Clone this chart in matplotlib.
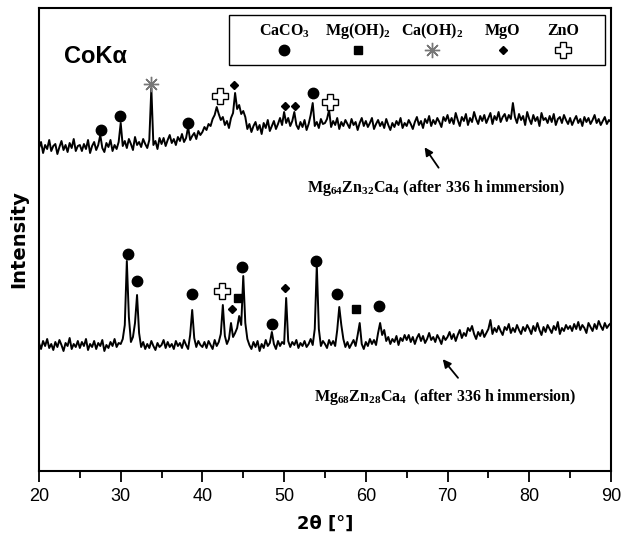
import numpy as np
import matplotlib
matplotlib.use('Agg')
import matplotlib.pyplot as plt
from matplotlib.patches import Rectangle

# subscripts in bold Times-like font
plt.rcParams['mathtext.fontset'] = 'custom'
plt.rcParams['mathtext.rm'] = 'Liberation Serif:bold'
plt.rcParams['mathtext.it'] = 'Liberation Serif:bold'
plt.rcParams['mathtext.bf'] = 'Liberation Serif:bold'

# 2theta grid, 0.25 deg steps
two_theta = np.arange(0, 281) * 0.25 + 20.0

# Mg64Zn32Ca4 (upper trace), one row per 5 deg
upper = [
    327, 333, 322, 330, 326, 335, 324, 329, 331, 321, 328, 334, 325, 330, 323, 332, 327, 336, 324, 329,
    330, 324, 331, 326, 335, 322, 329, 333, 325, 330, 340, 327, 323, 332, 328, 335, 324, 330, 326, 333,
    352, 329, 334, 327, 336, 331, 325, 338, 330, 333, 328, 336, 331, 327, 335, 387, 330, 334, 326, 337,
    331, 337, 329, 335, 340, 332, 336, 330, 338, 334, 341, 333, 337, 348, 335, 339, 342, 336, 344, 340,
    343, 348, 345, 351, 349, 356, 360, 368, 361, 355, 358, 350, 354, 347, 357, 362, 382, 366, 370, 361,
    364, 358, 346, 351, 343, 349, 353, 345, 350, 341, 352, 347, 355, 344, 349, 354, 346, 351, 357, 350,
    363, 352, 357, 349, 354, 363, 350, 346, 353, 348, 355, 345, 351, 360, 372, 349, 353, 347, 356, 351,
    352, 356, 365, 348, 354, 350, 357, 346, 353, 349, 355, 351, 347, 356, 350, 353, 345, 352, 357, 349,
    354, 348, 352, 357, 346, 351, 355, 349, 353, 347, 356, 350, 345, 352, 348, 354, 350, 357, 347, 352,
    349, 355, 351, 346, 353, 358, 350, 354, 347, 356, 352, 359, 349, 355, 351, 357, 353, 348, 358, 354,
    360, 352, 357, 351, 362, 355, 349, 358, 354, 361, 350, 357, 353, 363, 356, 351, 359, 354, 360, 352,
    357, 362, 351, 359, 355, 363, 353, 358, 361, 354, 360, 356, 372, 358, 352, 361, 355, 359, 350, 363,
    356, 351, 360, 354, 358, 349, 362, 355, 357, 352, 359, 353, 361, 350, 356, 358, 352, 360, 355, 351,
    357, 350, 355, 359, 352, 356, 349, 358, 353, 357, 351, 355, 360, 352, 356, 350, 354, 358, 351, 355,
    353,
]

# Mg68Zn28Ca4 (lower trace)
lower = [
    132, 126, 134, 129, 136, 127, 131, 125, 133, 128, 135, 130, 124, 132, 129, 137, 126, 131, 128, 134,
    127, 133, 129, 136, 125, 131, 128, 134, 126, 132, 129, 135, 124, 130, 127, 133, 129, 136, 128, 132,
    131, 136, 150, 214, 158, 133, 138, 152, 180, 142, 128, 133, 126, 131, 127, 134, 129, 125, 132, 128,
    130, 135, 127, 133, 128, 131, 126, 134, 129, 132, 127, 135, 130, 126, 140, 165, 137, 128, 134, 130,
    128, 133, 127, 134, 130, 126, 135, 129, 133, 141, 170, 139, 131, 136, 152, 138, 142, 147, 159, 150,
    199, 152, 136, 130, 126, 133, 128, 134, 124, 131, 127, 135, 129, 132, 143, 131, 126, 134, 129, 133,
    131, 177, 134, 128, 133, 130, 135, 127, 132, 129, 134, 128, 131, 136, 130, 146, 210, 146, 129, 134,
    131, 127, 135, 130, 134, 129, 145, 168, 150, 136, 128, 133, 127, 131, 135, 129, 140, 152, 131, 126,
    133, 129, 136, 131, 135, 130, 142, 152, 140, 145, 134, 138, 131, 136, 133, 139, 130, 137, 134, 140,
    135, 140, 133, 138, 131, 137, 141, 134, 139, 132, 136, 142, 135, 138, 133, 140, 136, 131, 139, 135,
    138, 143, 136, 141, 134, 140, 145, 137, 142, 139, 147, 144, 149, 141, 136, 143, 139, 145, 138, 142,
    146, 155, 141, 147, 143, 149, 144, 140, 148, 145, 151, 142, 147, 143, 150, 145, 141, 148, 144, 150,
    146, 141, 149, 144, 152, 145, 140, 148, 143, 150, 146, 142, 149, 145, 153, 141, 147, 144, 150, 146,
    149, 144, 151, 146, 153, 145, 150, 147, 142, 152, 148, 144, 151, 146, 154, 149, 145, 152, 147, 150,
    152,
]

# phase markers (2theta, height)
caco3_x = [27.6, 29.9, 38.2, 53.5, 30.9, 32.0, 38.7, 44.85, 48.5, 53.9, 56.5, 61.6]
caco3_y = [345, 359, 352, 382, 221, 194, 181, 208, 151, 214, 181, 169]
mgoh2_x = [44.35, 58.8]
mgoh2_y = [177, 166]
caoh2_x = [33.7]
caoh2_y = [391]
mgo_x = [43.9, 50.1, 51.3, 43.6, 50.1]
mgo_y = [390, 369, 369, 166, 187]
zno_x = [42.2, 55.6, 42.4]
zno_y = [379, 373, 184]

phases = ['CaCO$_3$', 'Mg(OH)$_2$', 'Ca(OH)$_2$', 'MgO', 'ZnO']

fig = plt.figure(figsize=(6.21, 5.41), dpi=100)
ax = fig.add_axes([0.0628, 0.1294, 0.921, 0.8558])

ax.plot(two_theta, upper, color='black', lw=1.4)
ax.plot(two_theta, lower, color='black', lw=1.4)

circle = dict(marker='o', ms=7.5, color='black', ls='none')
square = dict(marker='s', ms=6, color='black', ls='none')
star = dict(marker=(8, 2, 0), ms=11, color='#777777', mew=1.0, ls='none')
diamond = dict(marker='D', ms=4, color='black', ls='none')
plus = dict(marker='P', ms=11, mfc='white', mec='black', mew=1.0, ls='none')

ax.plot(caco3_x, caco3_y, **circle)
ax.plot(mgoh2_x, mgoh2_y, **square)
ax.plot(caoh2_x, caoh2_y, **star)
ax.plot(mgo_x, mgo_y, **diamond)
ax.plot(zno_x, zno_y, **plus)

ax.set_xlim(20, 90)
ax.set_ylim(4, 467)
ax.set_yticks([])
ax.set_xticks(np.arange(20, 91, 10))
ax.set_xticks(np.arange(25, 90, 10), minor=True)
ax.tick_params(axis='x', which='major', direction='out', length=8, width=1.3,
               labelsize=13, pad=4)
ax.tick_params(axis='x', which='minor', direction='out', length=5, width=1.3)
for lab in ax.get_xticklabels():
    lab.set_family('Liberation Sans')
for s in ax.spines.values():
    s.set_linewidth(1.5)

ax.set_xlabel('2θ [°]', fontsize=13, fontweight='bold', labelpad=7)
ax.set_ylabel('Intensity', fontsize=14, fontweight='bold', labelpad=8)

ax.text(0.043, 0.895, 'CoKα', transform=ax.transAxes, fontsize=17,
        fontweight='bold', family='Liberation Sans', va='center')

# legend box
ax.add_patch(Rectangle((0.333, 0.877), 0.657, 0.108, transform=ax.transAxes,
                       fill=False, lw=1.0, edgecolor='black'))
leg_x = [0.429, 0.558, 0.688, 0.811, 0.916]
leg_styles = [circle, square, star, diamond, plus]
for lx, name, st in zip(leg_x, phases, leg_styles):
    ax.text(lx, 0.95, name, transform=ax.transAxes, fontsize=11.5,
            family='Liberation Serif', fontweight='bold', ha='center', va='center')
    ax.plot([lx], [0.91], transform=ax.transAxes, clip_on=False, **st)

# sample labels and arrows
ax.annotate('', xy=(67.0, 330), xytext=(69.1, 305),
            arrowprops=dict(arrowstyle='-|>', color='black', lw=1.3, mutation_scale=12))
ax.text(68.6, 287, 'Mg$_{64}$Zn$_{32}$Ca$_4$ (after 336 h immersion)', fontsize=11.5,
        family='Liberation Serif', fontweight='bold', ha='center', va='center')
ax.annotate('', xy=(69.2, 118), xytext=(71.5, 95),
            arrowprops=dict(arrowstyle='-|>', color='black', lw=1.3, mutation_scale=12))
ax.text(69.7, 78, 'Mg$_{68}$Zn$_{28}$Ca$_4$  (after 336 h immersion)', fontsize=11.5,
        family='Liberation Serif', fontweight='bold', ha='center', va='center')

fig.savefig('out.png', dpi=100)
